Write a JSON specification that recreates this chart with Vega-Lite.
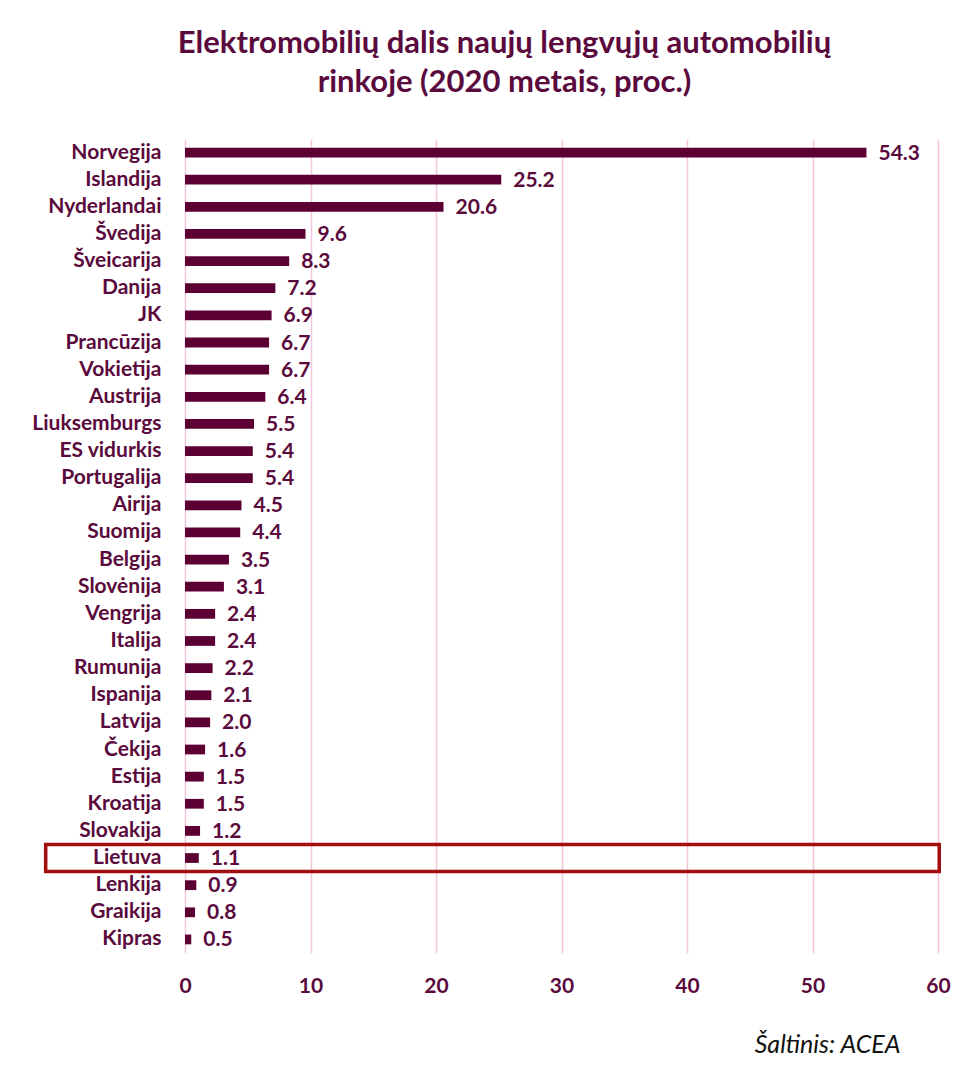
{
  "$schema": "https://vega.github.io/schema/vega-lite/v6.json",
  "autosize": "none",
  "width": 753,
  "height": 814,
  "padding": {"left": 185, "top": 139, "right": 27, "bottom": 124},
  "background": "white",
  "title": {
    "text": ["Elektromobilių dalis naujų lengvųjų automobilių", "rinkoje (2020 metais, proc.)"],
    "font": "Lato",
    "fontSize": 31,
    "fontWeight": "bold",
    "color": "#5a0a3c",
    "anchor": "middle",
    "dx": -57,
    "offset": 40,
    "lineHeight": 39
  },
  "config": {
    "view": {"stroke": null},
    "font": "Lato"
  },
  "data": {
    "values": [
      {"country": "Norvegija", "share": 54.3},
      {"country": "Islandija", "share": 25.2},
      {"country": "Nyderlandai", "share": 20.6},
      {"country": "Švedija", "share": 9.6},
      {"country": "Šveicarija", "share": 8.3},
      {"country": "Danija", "share": 7.2},
      {"country": "JK", "share": 6.9},
      {"country": "Prancūzija", "share": 6.7},
      {"country": "Vokietija", "share": 6.7},
      {"country": "Austrija", "share": 6.4},
      {"country": "Liuksemburgs", "share": 5.5},
      {"country": "ES vidurkis", "share": 5.4},
      {"country": "Portugalija", "share": 5.4},
      {"country": "Airija", "share": 4.5},
      {"country": "Suomija", "share": 4.4},
      {"country": "Belgija", "share": 3.5},
      {"country": "Slovėnija", "share": 3.1},
      {"country": "Vengrija", "share": 2.4},
      {"country": "Italija", "share": 2.4},
      {"country": "Rumunija", "share": 2.2},
      {"country": "Ispanija", "share": 2.1},
      {"country": "Latvija", "share": 2.0},
      {"country": "Čekija", "share": 1.6},
      {"country": "Estija", "share": 1.5},
      {"country": "Kroatija", "share": 1.5},
      {"country": "Slovakija", "share": 1.2},
      {"country": "Lietuva", "share": 1.1},
      {"country": "Lenkija", "share": 0.9},
      {"country": "Graikija", "share": 0.8},
      {"country": "Kipras", "share": 0.5}
    ]
  },
  "encoding": {
    "y": {
      "field": "country",
      "type": "nominal",
      "sort": null,
      "scale": {"paddingInner": 0, "paddingOuter": 0},
      "axis": {
        "title": null,
        "domain": false,
        "ticks": false,
        "labelPadding": 24,
        "labelFont": "Lato",
        "labelFontSize": 21,
        "labelFontWeight": "bold",
        "labelColor": "#5a0a3c"
      }
    }
  },
  "layer": [
    {
      "mark": {"type": "bar", "color": "#5c0034", "height": {"band": 0.36}},
      "encoding": {
        "x": {
          "field": "share",
          "type": "quantitative",
          "scale": {"domain": [0, 60], "nice": false},
          "axis": {
            "values": [0, 10, 20, 30, 40, 50, 60],
            "domain": false,
            "ticks": false,
            "grid": true,
            "gridColor": "#f2c6dc",
            "gridWidth": 1.5,
            "labelFlush": false,
            "labelPadding": 22,
            "labelFont": "Lato",
            "labelFontSize": 21,
            "labelFontWeight": "bold",
            "labelColor": "#5a0a3c",
            "title": "Šaltinis: ACEA",
            "titleFont": "Lato",
            "titleFontSize": 25,
            "titleFontStyle": "italic",
            "titleFontWeight": "normal",
            "titleColor": "#111111",
            "titleX": 715,
            "titleY": 99,
            "titleAlign": "right",
            "titleBaseline": "alphabetic"
          }
        }
      }
    },
    {
      "mark": {
        "type": "text",
        "align": "left",
        "baseline": "middle",
        "dx": 12,
        "dy": 1,
        "font": "Lato",
        "fontSize": 21,
        "fontWeight": "bold",
        "color": "#5a0a3c"
      },
      "encoding": {
        "x": {"field": "share", "type": "quantitative"},
        "text": {"field": "share", "type": "quantitative", "format": ".1f"}
      }
    },
    {
      "transform": [{"filter": "datum.country === 'Lietuva'"}],
      "mark": {
        "type": "rect",
        "fill": null,
        "fillOpacity": 0,
        "stroke": "#a30f0f",
        "strokeWidth": 3.5,
        "clip": false
      },
      "encoding": {
        "x": {"datum": -11.1},
        "x2": {"datum": 60.1}
      }
    }
  ]
}
